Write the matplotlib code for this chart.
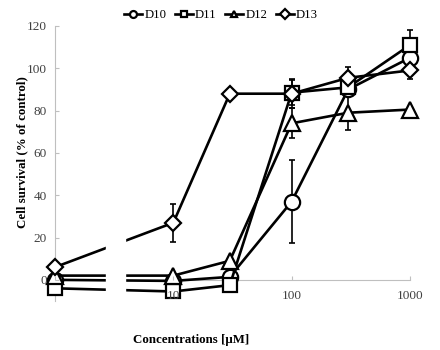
import matplotlib
matplotlib.use("Agg")
import matplotlib.pyplot as plt
import numpy as np
from matplotlib.lines import Line2D

plt.rcParams['font.family'] = ['Liberation Serif', 'DejaVu Serif']

conc = [1, 10, 30, 100, 300, 1000]
series = ["D10", "D11", "D12", "D13"]
d10 = [0, -0.5, 1.4, 37, 90, 105]
d11 = [-4, -5.5, -2.5, 88.5, 91, 111]
d12 = [2, 2, 9, 74, 79, 80.5]
d13 = [6, 27, 88, 88, 95.5, 99]
e10 = [0, 0, 0, 19.5, 0, 0]
e11 = [0, 0, 0, 6, 0, 7]
e12 = [0, 0, 0, 7, 8, 0]
e13 = [0, 9, 0, 7, 5, 4]
markers = ['o', 's', '^', 'D']
msizes = [11, 10.5, 11, 8.5]

fig = plt.figure(figsize=(4.4, 3.5), dpi=100)
ax = fig.add_axes([55/440, 1-301/350, 355/440, 275/350])
ax.set_axisbelow(False)

data = [d10, d11, d12, d13]
errs = [e10, e11, e12, e13]
for name, y, e, m, ms in zip(series, data, errs, markers, msizes):
    ax.errorbar(conc, y, yerr=e, fmt='none', ecolor='black', elinewidth=1.2,
                capsize=2.5, capthick=1.2, clip_on=False, zorder=1.5)
    ax.plot(conc, y, color='black', lw=1.9, marker=m, ms=ms, mfc='white',
            mec='black', mew=1.6, clip_on=False, label=name, zorder=2)

ax.set_xscale('log')
ax.set_xlim(1, 1000)
ax.set_ylim(-10, 120)
ax.axvspan(2.7, 3.9, ymin=0, ymax=0.3, color='white', zorder=2.6, clip_on=False)

ax.set_yticks(np.arange(0, 121, 20))
ax.set_xticks([1, 10, 100, 1000])
ax.set_xticklabels(['', '10', '100', '1000'])
ax.xaxis.set_minor_locator(matplotlib.ticker.NullLocator())
for s in ['top', 'right']:
    ax.spines[s].set_visible(False)
ax.spines['bottom'].set_position(('data', 0))
for s in ['left', 'bottom']:
    ax.spines[s].set_color('#bfbfbf')
    ax.spines[s].set_linewidth(0.8)
    ax.spines[s].set_zorder(1.4)
ax.tick_params(direction='in', length=3, color='#bfbfbf', labelsize=9.5,
               labelcolor='#404040')
ax.tick_params(axis='x', pad=7)
ax.tick_params(axis='y', pad=6)

fig.text(191/440, 1-340/350, 'Concentrations [µM]', ha='center', va='center',
         fontsize=9.3, fontweight='bold')
fig.text(22/440, 1-152/350, 'Cell survival (% of control)', ha='center',
         va='center', rotation=90, fontsize=9.3, fontweight='bold')

hs = [Line2D([], [], color='black', lw=1.9, marker=m, ms=5, mfc='white',
             mec='black', mew=1.6) for m in markers]
fig.legend(hs, series, loc='center', bbox_to_anchor=(221/440, 1-15/350), ncol=4,
           frameon=False, fontsize=9.2, handlelength=1.4, handletextpad=0.2,
           columnspacing=0.65, borderpad=0)

fig.savefig('out.png', dpi=100)
